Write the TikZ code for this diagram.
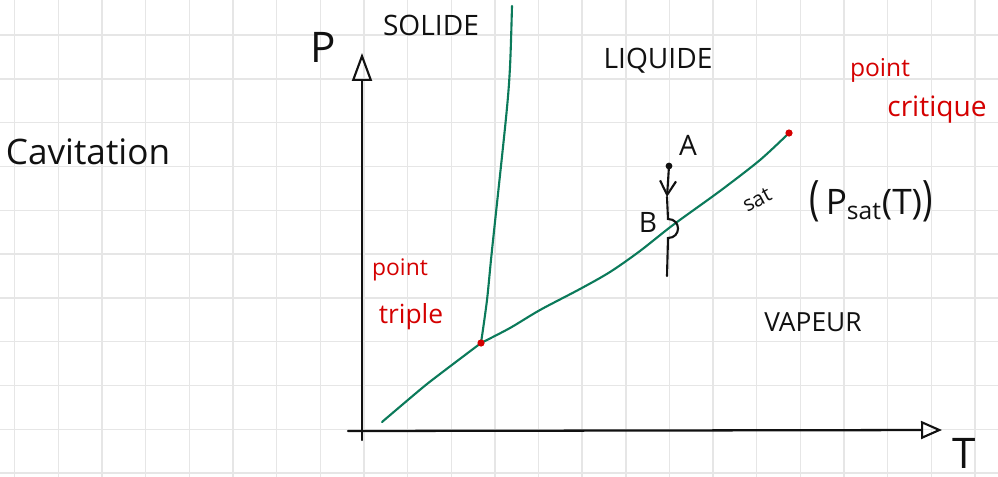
\documentclass[tikz,border=0pt]{standalone}
\usepackage{fontspec}
\setmainfont{Open Sans}
\usetikzlibrary{arrows.meta}
\definecolor{paperline}{HTML}{E6E6E6}
\definecolor{phasegreen}{HTML}{0B7A5A}
\definecolor{notered}{HTML}{D40000}
\definecolor{ink}{HTML}{111111}
\tikzset{
  paper/.style={
    draw=paperline,
    line width=0.8pt,
  },
  axisline/.style={
    draw=ink,
    line width=1.3pt,
    line cap=round,
  },
  axisP/.style={
    axisline,
    -{Triangle[open, length=0.56cm, width=0.4cm, line width=1.2pt]},
  },
  axisT/.style={
    axisline,
    -{Triangle[open, length=0.42cm, width=0.36cm, line width=1.2pt]},
  },
  phase/.style={
    draw=phasegreen,
    line width=1.2pt,
    line cap=round,
  },
  route/.style={
    draw=ink,
    line width=1.2pt,
    line cap=round,
  },
  hand/.style={
    text=ink,
    inner sep=0pt,
    font=\fontsize{#1pt}{#1pt}\selectfont,
  },
  hand/.default=16,
  redtxt/.style={
    hand=#1,
    text=notered,
  },
  redtxt/.default=14,
}

\begin{document}
\begin{tikzpicture}[x=0.02cm, y=-0.02cm]
\useasboundingbox (0,0) rectangle (998,477);

% === Grid paper ===

\foreach \k in {0,...,22}
  \draw[paper] ({14.7+43.65*\k},0) -- ({14.7+43.65*\k},477);
\foreach \k in {0,...,10}
  \draw[paper] (0,{35+43.8*\k}) -- (998,{35+43.8*\k});

% === Axes ===

\coordinate (pbottom) at (362,440);
\coordinate (ptop) at (362,53);
\coordinate (tleft) at (348,431);
\coordinate (tright) at (942,430);

\draw[axisP] (pbottom) -- (ptop);
\draw[axisT] (tleft) -- (tright);

\node[hand=24] (plabel) at (323,47) {P};
\node[hand=24] (tlabel) at (964,453) {T};

% === Phase boundaries ===

\coordinate (triple) at (481,343);
\coordinate (critical) at (789,133);
\coordinate (vapstart) at (382,422);
\coordinate (soltop) at (512,6);

% sublimation
\draw[phase] plot[smooth, tension=0.3] coordinates {(vapstart) (427,384) (triple)};
% vaporisation (sat)
\draw[phase] plot[smooth] coordinates {(triple) (510,328) (540,310) (580,289)
  (610,272) (640,251) (673,225) (720,191) (760,160) (critical)};
% fusion
\draw[phase] plot[smooth] coordinates {(triple) (487,300) (492,250)
  (506,118) (510,67) (soltop)};

\fill[notered] (triple) circle (3.6);
\fill[notered] (critical) circle (3.6);

% === Route A -> B ===

\coordinate (adot) at (669,166);
\coordinate (arrowtip) at (667,197);
\coordinate (hopin) at (668,219);
\coordinate (hopout) at (668,238);
\coordinate (routeend) at (667,276);

\fill[ink] (adot) circle (3.4);
\draw[route, -{Straight Barb[length=0.28cm, width=0.32cm, line width=1.2pt]}] (adot) -- (arrowtip);
\draw[route] (arrowtip) -- (hopin) to[out=0, in=0, looseness=1.8] (hopout) -- (routeend);

\node[hand=16] (alabel) at (688,145) {A};
\node[hand=16] (blabel) at (648,222) {B};
\node[hand=12, rotate=28] (satlabel) at (757,200) {sat};

% === Labels ===

\node[hand=20] (cavitation) at (88,152) {Cavitation};
\node[hand=16] (solide) at (431,25) {SOLIDE};
\node[hand=16] (liquide) at (658,61) {LIQUIDE};
\node[hand=15] (vapeur) at (813,322) {VAPEUR};

\node[hand=20] (psat) at (871,201)
  {\scalebox{1}[1.35]{(}\,P\textsubscript{sat}(T)\scalebox{1}[1.35]{)}};

\node[redtxt=14] (critpoint) at (880,70) {point};
\node[redtxt=16] (critword) at (937,110) {critique};

\node[redtxt=13] (triplepoint) at (400,270) {point};
\node[redtxt=15] (tripleword) at (411,317) {triple};

\end{tikzpicture}
\end{document}
